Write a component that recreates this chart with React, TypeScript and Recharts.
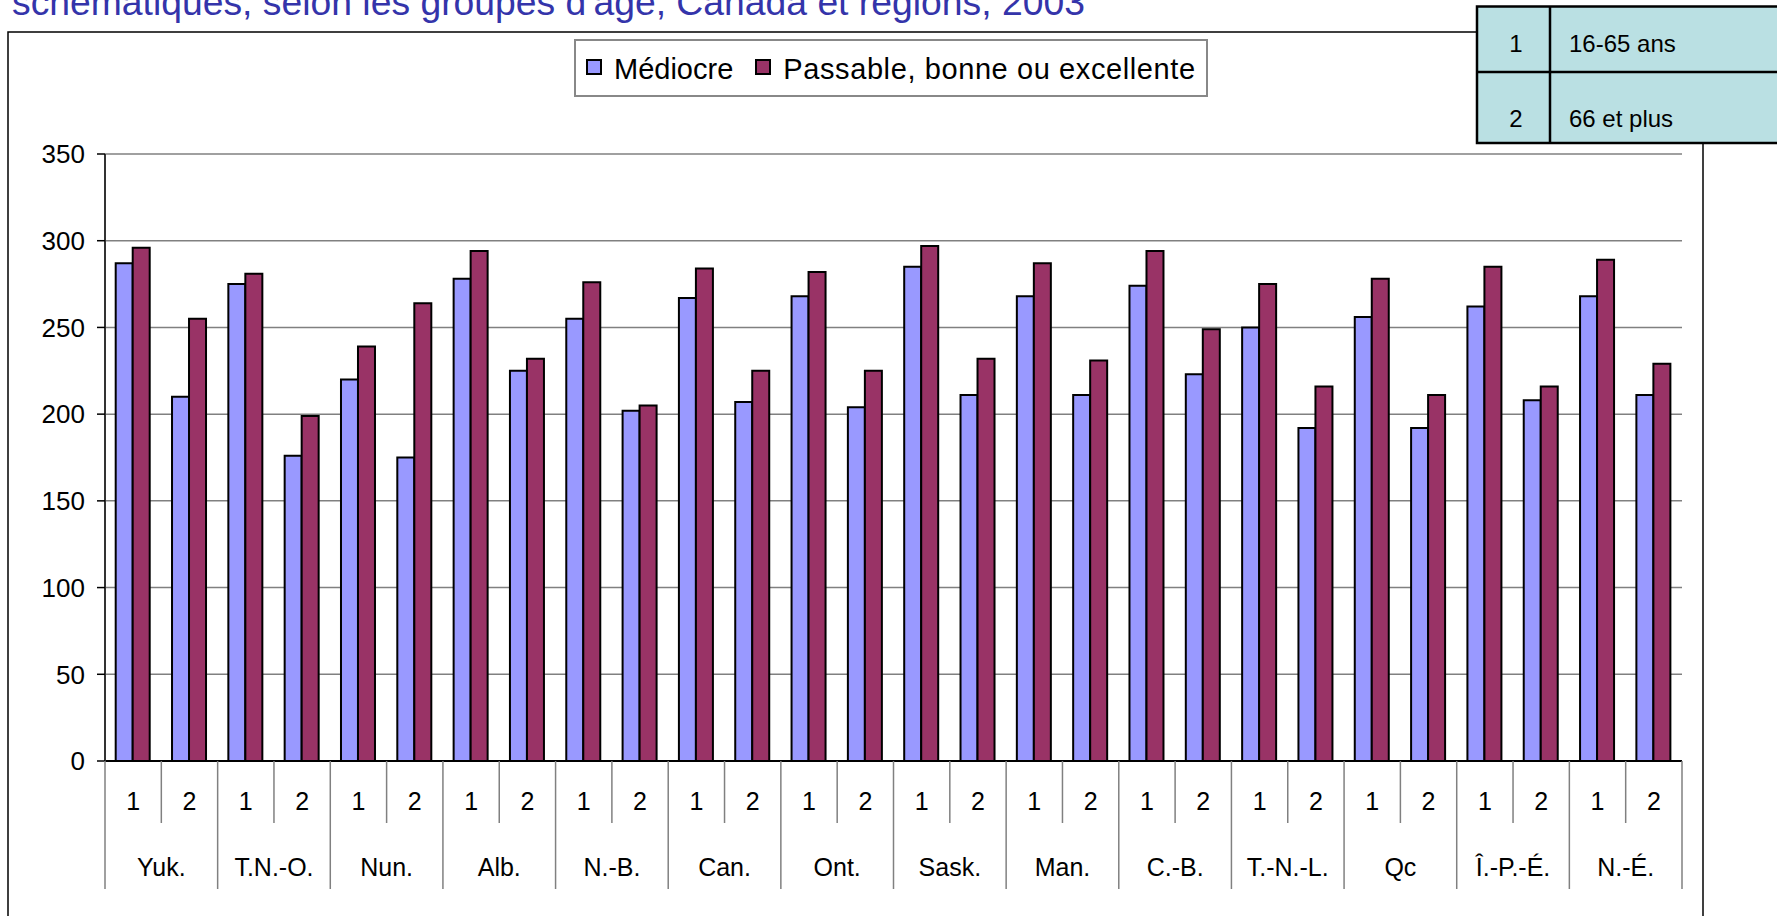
import React from 'react';
import { BarChart, Bar, XAxis, YAxis, CartesianGrid, Legend } from 'recharts';

const FONT = "'Liberation Sans', Arial, Helvetica, sans-serif";

const titleText = "schématiques, selon les groupes d'âge, Canada et régions, 2003";
const regions = ['Yuk.', 'T.N.-O.', 'Nun.', 'Alb.', 'N.-B.', 'Can.', 'Ont.', 'Sask.', 'Man.', 'C.-B.', 'T.-N.-L.', 'Qc', 'Î.-P.-É.', 'N.-É.'];
const ageGroups = ['1', '2'];
const ageLabels = ['16-65 ans', '66 et plus'];
const seriesNames = ['Médiocre', 'Passable, bonne ou excellente'];
const mediocre = [287, 210, 275, 176, 220, 175, 278, 225, 255, 202, 267, 207, 268, 204, 285, 211, 268, 211, 274, 223, 250, 192, 256, 192, 262, 208, 268, 211];
const passable = [296, 255, 281, 199, 239, 264, 294, 232, 276, 205, 284, 225, 282, 225, 297, 232, 287, 231, 294, 249, 275, 216, 278, 211, 285, 216, 289, 229];
const yTicks = [0, 50, 100, 150, 200, 250, 300, 350];

const data = regions.flatMap((region, r) =>
  ageGroups.map((age, a) => {
    const i = r * ageGroups.length + a;
    return { key: `${region}|${age}`, region, age, mediocre: mediocre[i], passable: passable[i] };
  })
);

const sepStyle = { stroke: '#808080', strokeWidth: 1.5 };

const CategoryTick = (props: any) => {
  const { x, y, payload } = props;
  const index = data.findIndex((d) => d.key === payload.value);
  if (index < 0) return null;
  const row = data[index];
  let half = payload.offset;
  if (typeof half !== 'number' || !isFinite(half) || half <= 0) {
    half = props.width / (props.visibleTicksCount || data.length) / 2;
  }
  const isFirstAge = row.age === ageGroups[0];
  return (
    <g>
      {index === 0 && <line x1={x - half} x2={x - half} y1={y} y2={y + 128} {...sepStyle} />}
      <line x1={x + half} x2={x + half} y1={y} y2={y + (isFirstAge ? 62 : 128)} {...sepStyle} />
      <text x={x} y={y + 49} textAnchor="middle" fontSize={25} fontFamily={FONT} fill="#000">
        {row.age}
      </text>
      {isFirstAge && (
        <text x={x + half} y={y + 115} textAnchor="middle" fontSize={25} fontFamily={FONT} fill="#000">
          {row.region}
        </text>
      )}
    </g>
  );
};

const LegendContent = (props: any) => {
  const items = props.payload || [];
  return (
    <div
      style={{
        boxSizing: 'border-box',
        width: 634,
        height: 58,
        border: '2px solid #888',
        background: '#fff',
        display: 'flex',
        alignItems: 'center',
        paddingLeft: 10,
        fontFamily: FONT,
        fontSize: 29,
        color: '#000',
        whiteSpace: 'nowrap',
      }}
    >
      {items.map((it: any, i: number) => (
        <div key={i} style={{ display: 'flex', alignItems: 'center', marginRight: 22 }}>
          <div
            style={{
              boxSizing: 'border-box',
              width: 16,
              height: 16,
              border: '2.5px solid #000',
              background: it.color,
              marginRight: 12,
              marginTop: -2,
            }}
          />
          <span style={{ lineHeight: '58px', marginTop: 2, letterSpacing: i === 0 ? 0 : 0.6 }}>{it.value}</span>
        </div>
      ))}
    </div>
  );
};

export default function App() {
  return (
    <div
      style={{
        position: 'absolute',
        left: 0,
        top: 0,
        width: 1777,
        height: 916,
        background: '#fff',
        overflow: 'hidden',
        fontFamily: FONT,
      }}
    >
      <BarChart
        width={1777}
        height={916}
        data={data}
        margin={{ top: 154, right: 95, bottom: 25, left: 45 }}
        barCategoryGap="19%"
        barGap={0}
      >
        <CartesianGrid horizontal vertical={false} stroke="#808080" strokeWidth={1.5} />
        <XAxis
          dataKey="key"
          height={130}
          interval={0}
          tickLine={false}
          tickSize={0}
          tickMargin={0}
          axisLine={{ stroke: '#000', strokeWidth: 2 }}
          tick={<CategoryTick />}
        />
        <YAxis
          domain={[0, 350]}
          ticks={yTicks}
          interval={0}
          width={60}
          tickSize={8}
          tickMargin={12}
          axisLine={{ stroke: '#333', strokeWidth: 2 }}
          tickLine={{ stroke: '#000', strokeWidth: 1.5 }}
          tick={{ fill: '#000', fontSize: 26, fontFamily: FONT }}
        />
        <YAxis
          yAxisId="right"
          orientation="right"
          domain={[0, 350]}
          width={0}
          tick={false}
          tickLine={false}
          axisLine={{ stroke: '#999', strokeWidth: 2 }}
        />
        <Legend
          layout="horizontal"
          verticalAlign="middle"
          align="center"
          content={<LegendContent />}
          wrapperStyle={{ position: 'absolute', left: 574, top: 39, width: 634, height: 58 }}
        />
        <Bar dataKey="mediocre" name={seriesNames[0]} fill="#9999ff" stroke="#000" strokeWidth={2} isAnimationActive={false} />
        <Bar dataKey="passable" name={seriesNames[1]} fill="#993366" stroke="#000" strokeWidth={2} isAnimationActive={false} />
      </BarChart>
      <svg
        width={1777}
        height={916}
        style={{ position: 'absolute', left: 0, top: 0, pointerEvents: 'none' }}
      >
        <text x={12} y={15} fontSize={37.3} fontFamily={FONT} fill="#3434aa">
          {titleText}
        </text>
        <rect x={8} y={32} width={1695} height={920} fill="none" stroke="#000" strokeWidth={1.5} />
        <rect x={1477} y={6.5} width={320} height={136.5} fill="#bae0e3" stroke="#000" strokeWidth={2.5} />
        <line x1={1477} x2={1777} y1={72} y2={72} stroke="#000" strokeWidth={2.5} />
        <line x1={1550} x2={1550} y1={6.5} y2={143} stroke="#000" strokeWidth={2.5} />
        {ageGroups.map((g, i) => (
          <g key={g}>
            <text x={1516} y={[52, 127][i]} textAnchor="middle" fontSize={24} fontFamily={FONT} fill="#000">
              {g}
            </text>
            <text x={1569} y={[52, 127][i]} fontSize={24} fontFamily={FONT} fill="#000">
              {ageLabels[i]}
            </text>
          </g>
        ))}
      </svg>
    </div>
  );
}
